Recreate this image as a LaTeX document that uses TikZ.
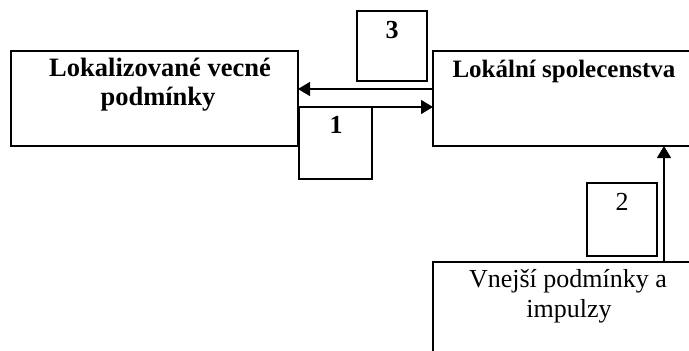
\documentclass[tikz,border=0pt]{standalone}
\usepackage{fontspec}
\setmainfont{Liberation Serif}
\usetikzlibrary{arrows.meta}
\begin{document}
\begin{tikzpicture}[x=1pt,y=-1pt,
  box/.style={draw,line width=1.2pt,rectangle,inner sep=0pt,outer sep=0pt},
  lbl/.style={anchor=base,inner sep=0pt,font=\fontsize{26}{30}\selectfont},
  blbl/.style={lbl,font=\fontsize{26}{30}\selectfont\bfseries},
  arr/.style={line width=1.2pt,-{Triangle[length=12pt,width=14pt]}}]
\useasboundingbox (0,0) rectangle (689,351);
\clip (0,0) rectangle (689,351);
\node[box,minimum width=287pt,minimum height=95pt] (L) at (154.5,98.5) {};
\node[box,minimum width=262pt,minimum height=95pt] (R) at (564,98.5) {};
\node[box,minimum width=70pt,minimum height=70pt] (b3) at (392,46) {};
\node[box,minimum width=73pt,minimum height=72pt] (b1) at (335.5,143) {};
\node[box,minimum width=70pt,minimum height=73pt] (b2) at (622,219.5) {};
\node[box,minimum width=262pt,minimum height=98pt] (B) at (564,311) {};
\node[blbl,font=\fontsize{26.5}{30}\selectfont\bfseries] (L1) at (160,76) {Lokalizované vecné};
\node[blbl,font=\fontsize{26.5}{30}\selectfont\bfseries] (L2) at (158,105) {podmínky};
\node[blbl,font=\fontsize{25}{30}\selectfont\bfseries] (R1) at (564,77) {Lokální spolecenstva};
\node[blbl] (t3) at (392,38) {3};
\node[blbl] (t1) at (336,133) {1};
\node[lbl] (t2) at (622,210) {2};
\node[lbl] (B1) at (568,287) {Vnejší podmínky a};
\node[lbl] (B2) at (569,317) {impulzy};
\draw[arr] ([yshift=-38pt]R.north west) -- ([yshift=-38pt]L.north east);
\draw[arr] ([yshift=-56pt]L.north east) -- ([yshift=-56pt]R.north west);
\draw[arr] ([xshift=100pt]B.north) -- ([xshift=100pt]R.south);
\end{tikzpicture}
\end{document}
